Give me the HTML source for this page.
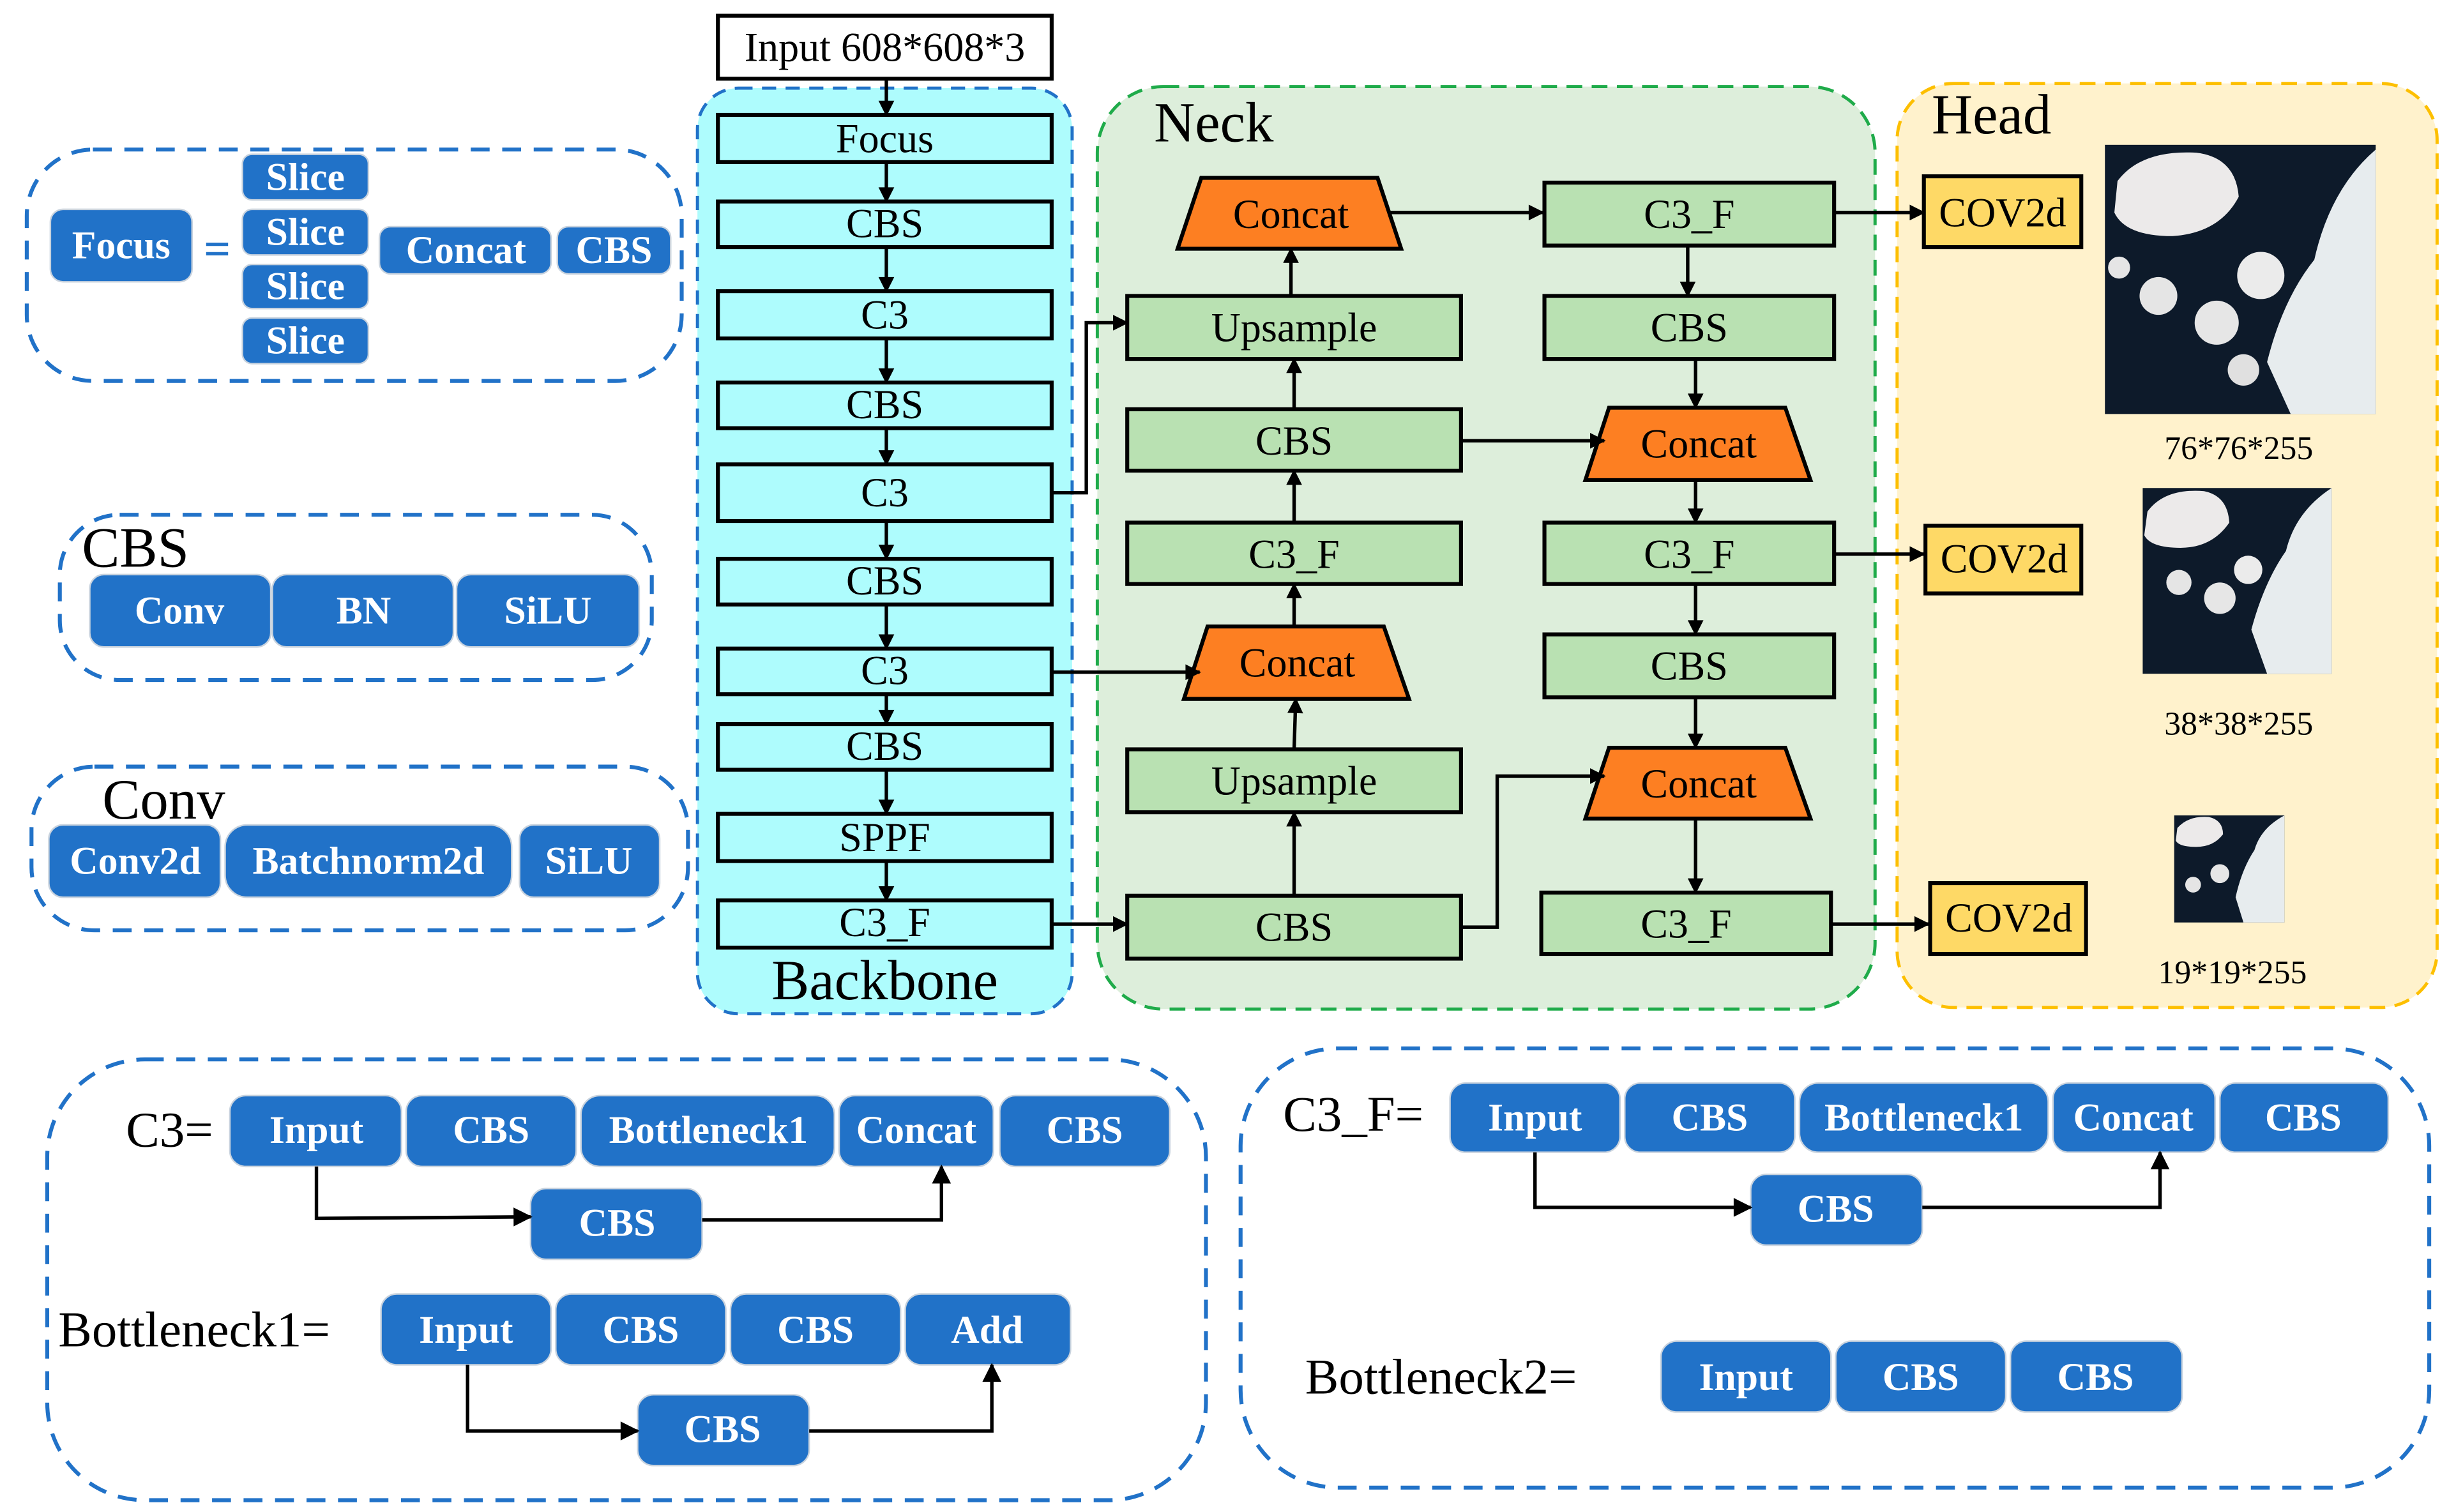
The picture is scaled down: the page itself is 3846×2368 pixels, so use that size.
<!DOCTYPE html>
<html><head><meta charset="utf-8">
<style>
html,body{margin:0;padding:0;background:#fff;}
svg{display:block;}
text{font-family:"Liberation Serif",serif;}
.bt{fill:#fff;font-weight:bold;font-size:25px;text-anchor:middle;dominant-baseline:central;}
.kt{fill:#000;font-size:26px;text-anchor:middle;dominant-baseline:central;}
.bb{fill:#2172c8;stroke:#c9d3de;stroke-width:1;}
.ln{stroke:#000;stroke-width:2.2;fill:none;}
</style></head>
<body>
<svg width="3846" height="2368" viewBox="0 0 1560 960.5" preserveAspectRatio="none" xmlns="http://www.w3.org/2000/svg">
<defs>
<marker id="a" viewBox="0 0 10 10" refX="9" refY="5" markerWidth="11" markerHeight="10" orient="auto" markerUnits="userSpaceOnUse">
<path d="M0,0 L10,5 L0,10 z" fill="#000"/></marker>
<marker id="b" viewBox="0 0 10 10" refX="9" refY="5" markerWidth="13" markerHeight="12" orient="auto" markerUnits="userSpaceOnUse">
<path d="M0,0 L10,5 L0,10 z" fill="#000"/></marker>
</defs>

<!-- Focus group -->
<rect x="17" y="95" width="416" height="147" rx="42" fill="none" stroke="#2172c8" stroke-width="2.5" stroke-dasharray="12,8"/>
<rect class="bb" x="32" y="133" width="90" height="46" rx="8"/><text class="bt" x="77" y="156">Focus</text>
<text x="138" y="158" font-size="30" font-weight="bold" fill="#2172c8" text-anchor="middle" dominant-baseline="central">=</text>
<rect class="bb" x="154" y="98" width="80" height="29" rx="6"/><text class="bt" x="194" y="112.5">Slice</text>
<rect class="bb" x="154" y="133" width="80" height="29" rx="6"/><text class="bt" x="194" y="147.5">Slice</text>
<rect class="bb" x="154" y="168" width="80" height="28" rx="6"/><text class="bt" x="194" y="182">Slice</text>
<rect class="bb" x="154" y="202" width="80" height="29" rx="6"/><text class="bt" x="194" y="216.5">Slice</text>
<rect class="bb" x="241" y="144" width="109" height="30" rx="7"/><text class="bt" x="296" y="159">Concat</text>
<rect class="bb" x="354" y="144" width="72" height="30" rx="7"/><text class="bt" x="390" y="159">CBS</text>

<!-- CBS group -->
<rect x="38" y="327" width="376" height="105" rx="38" fill="none" stroke="#2172c8" stroke-width="2.5" stroke-dasharray="12,8"/>
<text x="52" y="360" font-size="36" fill="#000">CBS</text>
<rect class="bb" x="57" y="365" width="115" height="46" rx="9"/><text class="bt" x="114" y="388">Conv</text>
<rect class="bb" x="173" y="365" width="115" height="46" rx="9"/><text class="bt" x="231" y="388">BN</text>
<rect class="bb" x="290" y="365" width="116" height="46" rx="9"/><text class="bt" x="348" y="388">SiLU</text>

<!-- Conv group -->
<rect x="20" y="487" width="417" height="104" rx="40" fill="none" stroke="#2172c8" stroke-width="2.5" stroke-dasharray="12,8"/>
<text x="65" y="520" font-size="36" fill="#000">Conv</text>
<rect class="bb" x="31" y="524" width="109" height="46" rx="9"/><text class="bt" x="86" y="547">Conv2d</text>
<rect class="bb" x="143" y="524" width="182" height="46" rx="14"/><text class="bt" x="234" y="547">Batchnorm2d</text>
<rect class="bb" x="330" y="524" width="89" height="46" rx="9"/><text class="bt" x="374" y="547">SiLU</text>

<!-- Backbone -->
<rect x="443" y="56" width="238" height="588" rx="26" fill="#aefcfd" stroke="#2172c8" stroke-width="2" stroke-dasharray="9,6"/>
<rect x="456" y="10" width="212" height="40" fill="#fff" stroke="#000" stroke-width="2.5"/><text class="kt" x="562" y="30">Input 608*608*3</text>
<g fill="#aefcfd" stroke="#000" stroke-width="2.5">
<rect x="456" y="73" width="212" height="30"/><rect x="456" y="128" width="212" height="29"/>
<rect x="456" y="185" width="212" height="30"/><rect x="456" y="243" width="212" height="29"/>
<rect x="456" y="295" width="212" height="36"/><rect x="456" y="355" width="212" height="29"/>
<rect x="456" y="412" width="212" height="29"/><rect x="456" y="460" width="212" height="29"/>
<rect x="456" y="517" width="212" height="30"/><rect x="456" y="572" width="212" height="30"/>
</g>
<text class="kt" x="562" y="88">Focus</text><text class="kt" x="562" y="142">CBS</text>
<text class="kt" x="562" y="200">C3</text><text class="kt" x="562" y="257">CBS</text>
<text class="kt" x="562" y="313">C3</text><text class="kt" x="562" y="369">CBS</text>
<text class="kt" x="562" y="426">C3</text><text class="kt" x="562" y="474">CBS</text>
<text class="kt" x="562" y="532">SPPF</text><text class="kt" x="562" y="586">C3_F</text>
<text x="562" y="623" font-size="36" text-anchor="middle" dominant-baseline="central">Backbone</text>
<g class="ln" marker-end="url(#a)">
<line x1="563" y1="50" x2="563" y2="73"/><line x1="563" y1="103" x2="563" y2="128"/>
<line x1="563" y1="157" x2="563" y2="185"/><line x1="563" y1="215" x2="563" y2="243"/>
<line x1="563" y1="272" x2="563" y2="295"/><line x1="563" y1="331" x2="563" y2="355"/>
<line x1="563" y1="384" x2="563" y2="412"/><line x1="563" y1="441" x2="563" y2="460"/>
<line x1="563" y1="489" x2="563" y2="517"/><line x1="563" y1="547" x2="563" y2="572"/>
</g>

<!-- Neck -->
<rect x="697" y="55" width="494" height="586" rx="42" fill="#ddeedb" stroke="#1fab4a" stroke-width="2" stroke-dasharray="10,6"/>
<text x="733" y="78" font-size="36" dominant-baseline="central">Neck</text>
<g fill="#b9e1b2" stroke="#000" stroke-width="2.5">
<rect x="716" y="188" width="212" height="40"/><rect x="716" y="260" width="212" height="39"/>
<rect x="716" y="332" width="212" height="39"/><rect x="716" y="476" width="212" height="40"/>
<rect x="716" y="569" width="212" height="40"/>
<rect x="981" y="116" width="184" height="40"/><rect x="981" y="188" width="184" height="40"/>
<rect x="981" y="332" width="184" height="39"/><rect x="981" y="403" width="184" height="40"/>
<rect x="979" y="567" width="184" height="39"/>
</g>
<g fill="#fd7f22" stroke="#000" stroke-width="2.5">
<polygon points="763,113 875,113 890,158 748,158"/>
<polygon points="767,398 879,398 895,444 752,444"/>
<polygon points="1022,259 1134,259 1150,305 1007,305"/>
<polygon points="1022,475 1134,475 1150,520 1007,520"/>
</g>
<text class="kt" x="820" y="136">Concat</text><text class="kt" x="822" y="208">Upsample</text>
<text class="kt" x="822" y="280">CBS</text><text class="kt" x="822" y="352">C3_F</text>
<text class="kt" x="824" y="421">Concat</text><text class="kt" x="822" y="496">Upsample</text>
<text class="kt" x="822" y="589">CBS</text>
<text class="kt" x="1073" y="136">C3_F</text><text class="kt" x="1073" y="208">CBS</text>
<text class="kt" x="1079" y="282">Concat</text><text class="kt" x="1073" y="352">C3_F</text>
<text class="kt" x="1073" y="423">CBS</text><text class="kt" x="1079" y="498">Concat</text>
<text class="kt" x="1071" y="587">C3_F</text>
<g class="ln" marker-end="url(#a)">
<polyline points="668,313 690,313 690,205 716,205"/>
<line x1="668" y1="427" x2="762" y2="427"/>
<line x1="668" y1="587" x2="716" y2="587"/>
<line x1="822" y1="569" x2="822" y2="516"/>
<line x1="822" y1="476" x2="823" y2="444"/>
<line x1="822" y1="398" x2="822" y2="371"/>
<line x1="822" y1="332" x2="822" y2="299"/>
<line x1="822" y1="260" x2="822" y2="228"/>
<line x1="820" y1="188" x2="820" y2="158"/>
<line x1="883" y1="135" x2="980" y2="135"/>
<line x1="1072" y1="156" x2="1072" y2="188"/>
<line x1="1077" y1="228" x2="1077" y2="259"/>
<line x1="928" y1="280" x2="1019" y2="280"/>
<line x1="1077" y1="305" x2="1077" y2="332"/>
<line x1="1077" y1="371" x2="1077" y2="403"/>
<line x1="1077" y1="443" x2="1077" y2="475"/>
<polyline points="928,589 951,589 951,493 1019,493"/>
<line x1="1077" y1="520" x2="1077" y2="567"/>
</g>

<!-- Head -->
<rect x="1205" y="53" width="343" height="587" rx="36" fill="#fff2cc" stroke="#fdbf00" stroke-width="2" stroke-dasharray="10,6"/>
<text x="1227" y="73" font-size="36" dominant-baseline="central">Head</text>
<g fill="#fed966" stroke="#000" stroke-width="2.5">
<rect x="1222" y="112" width="100" height="45"/><rect x="1223" y="334" width="99" height="43"/>
<rect x="1226" y="561" width="99" height="45"/>
</g>
<text class="kt" x="1272" y="135">COV2d</text><text class="kt" x="1273" y="355">COV2d</text>
<text class="kt" x="1276" y="583">COV2d</text>
<g class="ln" marker-end="url(#a)">
<line x1="1165" y1="135" x2="1222" y2="135"/>
<line x1="1165" y1="352" x2="1222" y2="352"/>
<line x1="1163" y1="587" x2="1225" y2="587"/>
</g>
<g>
<rect x="1337" y="92" width="172" height="171" fill="#0d1a2a"/>
<path d="M1345,115 Q1360,95 1395,97 Q1420,100 1422,125 Q1410,148 1380,150 Q1350,150 1343,135 z" fill="#eceaea"/>
<path d="M1455,263 L1440,230 Q1450,190 1470,165 Q1480,120 1509,95 L1509,263 z" fill="#e7ecee"/>
<circle cx="1408" cy="205" r="14" fill="#e6e6e6"/><circle cx="1436" cy="175" r="15" fill="#ebebeb"/>
<circle cx="1371" cy="188" r="12" fill="#e5e5e5"/><circle cx="1346" cy="170" r="7" fill="#e5e5e5"/>
<circle cx="1425" cy="235" r="10" fill="#e0e0e0"/>
</g>
<g>
<rect x="1361" y="310" width="120" height="118" fill="#0d1a2a"/>
<path d="M1364,325 Q1375,310 1400,312 Q1415,315 1416,332 Q1405,348 1385,348 Q1366,348 1362,340 z" fill="#eceaea"/>
<path d="M1440,428 L1430,400 Q1438,370 1452,350 Q1458,325 1481,310 L1481,428 z" fill="#e7ecee"/>
<circle cx="1410" cy="380" r="10" fill="#e6e6e6"/><circle cx="1428" cy="362" r="9" fill="#ebebeb"/>
<circle cx="1384" cy="370" r="8" fill="#e5e5e5"/>
</g>
<g>
<rect x="1381" y="518" width="70" height="68" fill="#0d1a2a"/>
<path d="M1383,526 Q1390,518 1403,519 Q1412,521 1412,530 Q1406,538 1395,538 Q1384,538 1382,534 z" fill="#eceaea"/>
<path d="M1425,586 L1420,570 Q1424,552 1432,540 Q1436,526 1451,518 L1451,586 z" fill="#e7ecee"/>
<circle cx="1410" cy="555" r="6" fill="#e6e6e6"/><circle cx="1393" cy="562" r="5" fill="#e5e5e5"/>
</g>
<g font-size="21" text-anchor="middle" dominant-baseline="central">
<text x="1422" y="285">76*76*255</text><text x="1422" y="460">38*38*255</text><text x="1418" y="618">19*19*255</text>
</g>

<!-- C3 / Bottleneck1 group -->
<rect x="30" y="673" width="736" height="280" rx="62" fill="none" stroke="#2172c8" stroke-width="2.5" stroke-dasharray="12,8"/>
<text x="80" y="718" font-size="32" dominant-baseline="central">C3=</text>
<rect class="bb" x="146" y="696" width="109" height="45" rx="10"/><text class="bt" x="201" y="718">Input</text>
<rect class="bb" x="258" y="696" width="108" height="45" rx="10"/><text class="bt" x="312" y="718">CBS</text>
<rect class="bb" x="369" y="696" width="161" height="45" rx="12"/><text class="bt" x="450" y="718">Bottleneck1</text>
<rect class="bb" x="533" y="696" width="98" height="45" rx="10"/><text class="bt" x="582" y="718">Concat</text>
<rect class="bb" x="635" y="696" width="108" height="45" rx="10"/><text class="bt" x="689" y="718">CBS</text>
<rect class="bb" x="337" y="755" width="109" height="45" rx="10"/><text class="bt" x="392" y="777">CBS</text>
<text x="37" y="845" font-size="32" dominant-baseline="central">Bottleneck1=</text>
<rect class="bb" x="242" y="822" width="108" height="45" rx="10"/><text class="bt" x="296" y="845">Input</text>
<rect class="bb" x="353" y="822" width="108" height="45" rx="10"/><text class="bt" x="407" y="845">CBS</text>
<rect class="bb" x="464" y="822" width="108" height="45" rx="10"/><text class="bt" x="518" y="845">CBS</text>
<rect class="bb" x="575" y="822" width="105" height="45" rx="10"/><text class="bt" x="627" y="845">Add</text>
<rect class="bb" x="405" y="886" width="109" height="45" rx="10"/><text class="bt" x="459" y="908">CBS</text>
<g class="ln" stroke-width="2.5" marker-end="url(#b)">
<polyline points="201,741 201,774 337,773"/>
<polyline points="446,775 598,775 598,741"/>
<polyline points="297,867 297,909 405,909"/>
<polyline points="514,909 630,909 630,867"/>
</g>

<!-- C3_F / Bottleneck2 group -->
<rect x="788" y="666" width="755" height="279" rx="62" fill="none" stroke="#2172c8" stroke-width="2.5" stroke-dasharray="12,8"/>
<text x="815" y="708" font-size="32" dominant-baseline="central">C3_F=</text>
<rect class="bb" x="921" y="688" width="108" height="44" rx="10"/><text class="bt" x="975" y="710">Input</text>
<rect class="bb" x="1032" y="688" width="108" height="44" rx="10"/><text class="bt" x="1086" y="710">CBS</text>
<rect class="bb" x="1143" y="688" width="158" height="44" rx="12"/><text class="bt" x="1222" y="710">Bottleneck1</text>
<rect class="bb" x="1304" y="688" width="103" height="44" rx="10"/><text class="bt" x="1355" y="710">Concat</text>
<rect class="bb" x="1410" y="688" width="107" height="44" rx="10"/><text class="bt" x="1463" y="710">CBS</text>
<rect class="bb" x="1112" y="746" width="109" height="45" rx="10"/><text class="bt" x="1166" y="768">CBS</text>
<text x="829" y="875" font-size="32" dominant-baseline="central">Bottleneck2=</text>
<rect class="bb" x="1055" y="852" width="108" height="45" rx="10"/><text class="bt" x="1109" y="875">Input</text>
<rect class="bb" x="1166" y="852" width="108" height="45" rx="10"/><text class="bt" x="1220" y="875">CBS</text>
<rect class="bb" x="1277" y="852" width="109" height="45" rx="10"/><text class="bt" x="1331" y="875">CBS</text>
<g class="ln" stroke-width="2.5" marker-end="url(#b)">
<polyline points="975,732 975,767 1112,767"/>
<polyline points="1221,767 1372,767 1372,732"/>
</g>
</svg>
</body></html>
